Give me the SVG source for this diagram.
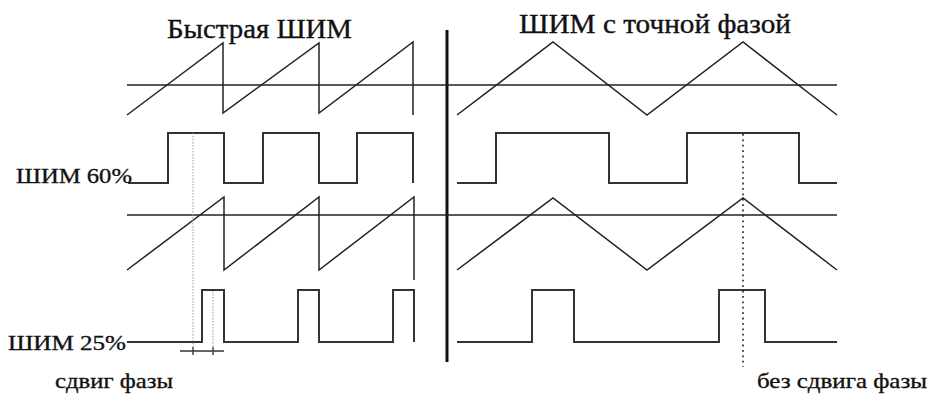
<svg xmlns="http://www.w3.org/2000/svg" width="928" height="394" viewBox="0 0 928 394">
<style>
.t{font-family:"Liberation Serif","Times New Roman",serif;fill:#111;stroke:#111;stroke-width:0.35}
.w{fill:none;stroke:#222;stroke-width:1.5;stroke-linejoin:miter}
.sq{fill:none;stroke:#333;stroke-width:2;stroke-linejoin:miter}
.ax{fill:none;stroke:#222;stroke-width:1.6}
.dg{fill:none;stroke:#999;stroke-width:1;stroke-dasharray:1.5,1.5}
.db{fill:none;stroke:#222;stroke-width:1.6;stroke-dasharray:1.8,3.6}
</style>
<rect width="928" height="394" fill="#fff"/>
<g id="titles">
<text class="t" x="167" y="38" font-size="28" textLength="185" lengthAdjust="spacingAndGlyphs">Быстрая ШИМ</text>
<text class="t" x="519" y="33" font-size="27" textLength="272" lengthAdjust="spacingAndGlyphs">ШИМ с точной фазой</text>
</g>
<g id="divider"><line x1="447" y1="30" x2="447" y2="362" stroke="#111" stroke-width="3"/></g>
<g id="fast-pwm">
<line class="ax" x1="127" y1="85" x2="837" y2="85"/>
<line class="ax" x1="127" y1="215" x2="837" y2="215"/>
<path class="w" d="M127,115 L223,43 L223,113 L319,43 L319,113 L413,42 L413,115"/>
<path class="sq" d="M128,183 L168,183 L168,133 L224,133 L224,183 L263,183 L263,133 L319,133 L319,183 L357,183 L357,133 L413,133 L413,183"/>
<path class="w" d="M127,270 L224,197 L224,270 L319,197 L319,270 L414,197 L414,280"/>
<path class="sq" d="M127,342 L202,342 L202,290 L224,290 L224,342 L298,342 L298,290 L319,290 L319,342 L393,342 L393,290 L414,290 L414,342"/>
<line class="dg" x1="193" y1="133" x2="193" y2="355"/>
<line class="dg" x1="213" y1="291" x2="213" y2="355"/>
<line x1="180" y1="351" x2="224" y2="351" stroke="#333" stroke-width="1.4"/>
<line x1="193" y1="347" x2="193" y2="355" stroke="#444" stroke-width="1.4"/>
<line x1="213" y1="347" x2="213" y2="355" stroke="#444" stroke-width="1.4"/>
</g>
<g id="phase-pwm">
<path class="w" d="M457,115 L553,42 L647,115 L743,42 L837,115"/>
<path class="sq" d="M457,183 L496,183 L496,133 L609,133 L609,183 L687,183 L687,133 L799,133 L799,183 L837,183"/>
<path class="w" d="M457,270 L553,198 L647,270 L743,198 L837,270"/>
<path class="sq" d="M457,342 L532,342 L532,290 L574,290 L574,342 L719,342 L719,290 L765,290 L765,342 L837,342"/>
<line class="db" x1="743" y1="134" x2="743" y2="367"/>
</g>
<g id="labels">
<text class="t" x="16" y="183" font-size="22" textLength="116" lengthAdjust="spacingAndGlyphs">ШИМ 60%</text>
<text class="t" x="8" y="350" font-size="22" textLength="118" lengthAdjust="spacingAndGlyphs">ШИМ 25%</text>
<text class="t" x="55" y="388" font-size="22" textLength="118" lengthAdjust="spacingAndGlyphs">сдвиг фазы</text>
<text class="t" x="757" y="388" font-size="22" textLength="170" lengthAdjust="spacingAndGlyphs">без сдвига фазы</text>
</g>
</svg>
